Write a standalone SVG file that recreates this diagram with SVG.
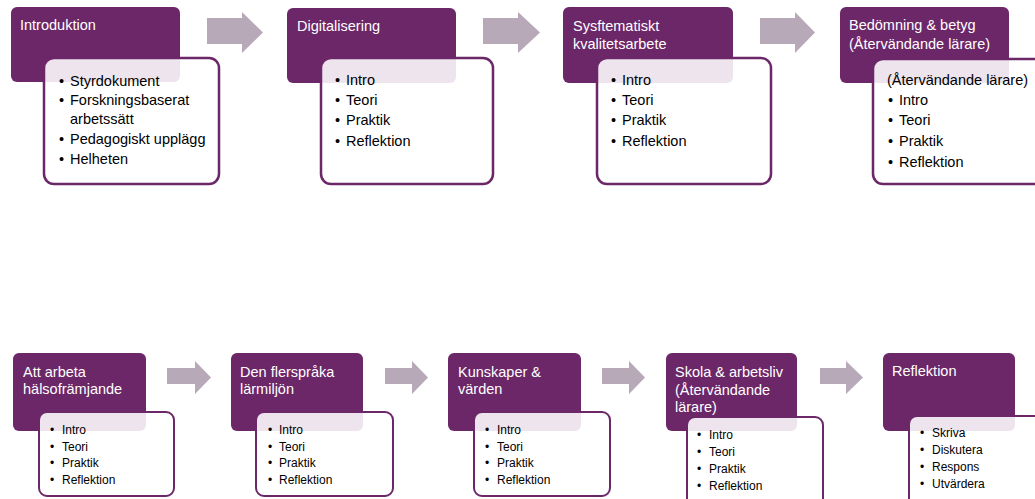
<svg xmlns="http://www.w3.org/2000/svg" width="1035" height="499" viewBox="0 0 1035 499">
<style>
.hd{fill:#6C2769}
.bx{fill:#ffffff;fill-opacity:0.88;stroke:#6C2769;stroke-width:2.5}
.bs{fill:#ffffff;fill-opacity:0.88;stroke:#6C2769;stroke-width:2}
.t{font-family:"Liberation Sans",Arial,sans-serif;font-size:14.5px;fill:#ffffff}
.b{font-family:"Liberation Sans",Arial,sans-serif;font-size:14.5px;fill:#000000}
.s{font-family:"Liberation Sans",Arial,sans-serif;font-size:12px;fill:#000000}
.ar{fill:#B8A9B9}
</style>
<rect width="1035" height="499" fill="#ffffff"/>
<g id="connectors">
<path class="ar" d="M207,18 H242 V12 L263,32.5 L242,53 V44 H207 Z"/>
<path class="ar" d="M483,18 H518 V12 L540,32.5 L518,53 V44 H483 Z"/>
<path class="ar" d="M760,18 H795 V12 L815,32.5 L795,53 V44 H760 Z"/>
<path class="ar" d="M167,368 H195 V361 L211,377.5 L195,394 V384 H167 Z"/>
<path class="ar" d="M385,368 H412 V361 L428,377.5 L412,394 V384 H385 Z"/>
<path class="ar" d="M602,368 H629 V361 L645,377.5 L629,394 V384 H602 Z"/>
<path class="ar" d="M820,368 H846 V361 L863,377.5 L846,394 V384 H820 Z"/>
</g>
<g id="n1">
<rect class="hd" x="11" y="7" width="169" height="75" rx="6"/>
<text class="t" x="20" y="30">Introduktion</text>
<rect class="bx" x="44" y="58" width="175" height="126" rx="10"/>
<text class="b"><tspan x="59" y="86">•</tspan><tspan x="70" y="86">Styrdokument</tspan><tspan x="59" y="105">•</tspan><tspan x="70" y="105">Forskningsbaserat</tspan><tspan x="70" y="124">arbetssätt</tspan><tspan x="59" y="144">•</tspan><tspan x="70" y="144">Pedagogiskt upplägg</tspan><tspan x="59" y="164">•</tspan><tspan x="70" y="164">Helheten</tspan></text>
</g>
<g id="n2">
<rect class="hd" x="287" y="8" width="169" height="75" rx="6"/>
<text class="t" x="297" y="31">Digitalisering</text>
<rect class="bx" x="321" y="58" width="172" height="126" rx="10"/>
<text class="b"><tspan x="335" y="85">•</tspan><tspan x="346" y="85">Intro</tspan><tspan x="335" y="105">•</tspan><tspan x="346" y="105">Teori</tspan><tspan x="335" y="125">•</tspan><tspan x="346" y="125">Praktik</tspan><tspan x="335" y="146">•</tspan><tspan x="346" y="146">Reflektion</tspan></text>
</g>
<g id="n3">
<rect class="hd" x="563" y="7" width="170" height="76" rx="6"/>
<text class="t"><tspan x="573" y="31">Sysftematiskt</tspan><tspan x="573" y="49">kvalitetsarbete</tspan></text>
<rect class="bx" x="597" y="58" width="174" height="126" rx="10"/>
<text class="b"><tspan x="611" y="85">•</tspan><tspan x="622" y="85">Intro</tspan><tspan x="611" y="105">•</tspan><tspan x="622" y="105">Teori</tspan><tspan x="611" y="125">•</tspan><tspan x="622" y="125">Praktik</tspan><tspan x="611" y="146">•</tspan><tspan x="622" y="146">Reflektion</tspan></text>
</g>
<g id="n4">
<rect class="hd" x="840" y="7" width="169" height="76" rx="6"/>
<text class="t"><tspan x="849" y="30">Bedömning &amp; betyg</tspan><tspan x="849" y="49">(Återvändande lärare)</tspan></text>
<rect class="bx" x="873" y="59" width="180" height="125" rx="10"/>
<text class="b"><tspan x="887" y="85">(Återvändande lärare)</tspan><tspan x="888" y="105">•</tspan><tspan x="899" y="105">Intro</tspan><tspan x="888" y="125">•</tspan><tspan x="899" y="125">Teori</tspan><tspan x="888" y="146">•</tspan><tspan x="899" y="146">Praktik</tspan><tspan x="888" y="167">•</tspan><tspan x="899" y="167">Reflektion</tspan></text>
</g>
<g id="n5">
<rect class="hd" x="13" y="353" width="133" height="78" rx="6"/>
<text class="t"><tspan x="23" y="377">Att arbeta</tspan><tspan x="23" y="394">hälsofrämjande</tspan></text>
<rect class="bs" x="39" y="412" width="135" height="84" rx="8"/>
<text class="s"><tspan x="50" y="434">•</tspan><tspan x="62" y="434">Intro</tspan><tspan x="50" y="451">•</tspan><tspan x="62" y="451">Teori</tspan><tspan x="50" y="467">•</tspan><tspan x="62" y="467">Praktik</tspan><tspan x="50" y="484">•</tspan><tspan x="62" y="484">Reflektion</tspan></text>
</g>
<g id="n6">
<rect class="hd" x="231" y="353" width="132" height="78" rx="6"/>
<text class="t"><tspan x="240" y="377">Den flerspråka</tspan><tspan x="240" y="394">lärmiljön</tspan></text>
<rect class="bs" x="256" y="412" width="137" height="84" rx="8"/>
<text class="s"><tspan x="268" y="434">•</tspan><tspan x="279" y="434">Intro</tspan><tspan x="268" y="451">•</tspan><tspan x="279" y="451">Teori</tspan><tspan x="268" y="467">•</tspan><tspan x="279" y="467">Praktik</tspan><tspan x="268" y="484">•</tspan><tspan x="279" y="484">Reflektion</tspan></text>
</g>
<g id="n7">
<rect class="hd" x="448" y="353" width="133" height="78" rx="6"/>
<text class="t"><tspan x="458" y="377">Kunskaper &amp;</tspan><tspan x="458" y="394">värden</tspan></text>
<rect class="bs" x="474" y="412" width="136" height="84" rx="8"/>
<text class="s"><tspan x="485" y="434">•</tspan><tspan x="497" y="434">Intro</tspan><tspan x="485" y="451">•</tspan><tspan x="497" y="451">Teori</tspan><tspan x="485" y="467">•</tspan><tspan x="497" y="467">Praktik</tspan><tspan x="485" y="484">•</tspan><tspan x="497" y="484">Reflektion</tspan></text>
</g>
<g id="n8">
<rect class="hd" x="666" y="353" width="131" height="78" rx="6"/>
<text class="t"><tspan x="675" y="377">Skola &amp; arbetsliv</tspan><tspan x="675" y="395">(Återvändande</tspan><tspan x="675" y="412">lärare)</tspan></text>
<rect class="bs" x="687" y="417" width="136" height="92" rx="8"/>
<text class="s"><tspan x="697" y="439">•</tspan><tspan x="709" y="439">Intro</tspan><tspan x="697" y="456">•</tspan><tspan x="709" y="456">Teori</tspan><tspan x="697" y="473">•</tspan><tspan x="709" y="473">Praktik</tspan><tspan x="697" y="490">•</tspan><tspan x="709" y="490">Reflektion</tspan></text>
</g>
<g id="n9">
<rect class="hd" x="883" y="353" width="132" height="78" rx="6"/>
<text class="t" x="892" y="376">Reflektion</text>
<rect class="bs" x="909" y="416" width="140" height="92" rx="8"/>
<text class="s"><tspan x="920" y="437">•</tspan><tspan x="932" y="437">Skriva</tspan><tspan x="920" y="454">•</tspan><tspan x="932" y="454">Diskutera</tspan><tspan x="920" y="471">•</tspan><tspan x="932" y="471">Respons</tspan><tspan x="920" y="488">•</tspan><tspan x="932" y="488">Utvärdera</tspan></text>
</g>
</svg>
